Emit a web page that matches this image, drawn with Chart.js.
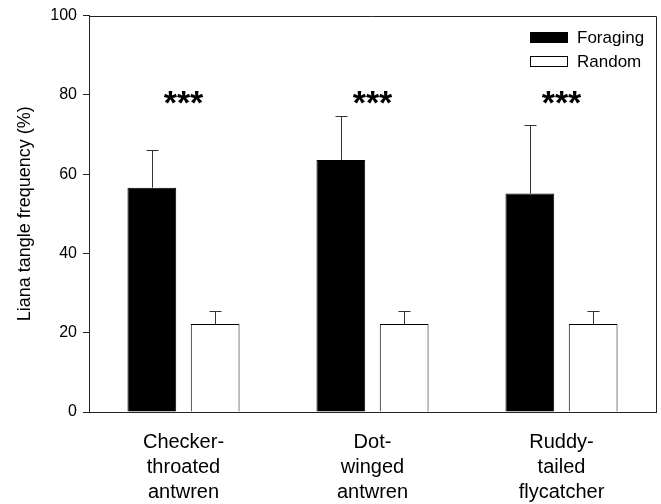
<!DOCTYPE html>
<html>
<head>
<meta charset="utf-8">
<script src="https://cdn.jsdelivr.net/npm/chart.js@4"></script>
<style>
  html, body { margin: 0; padding: 0; background: #fff; }
  canvas { display: block; }
</style>
</head>
<body>
<canvas id="chart" width="661" height="504"></canvas>
<script>
const categories = [
    ["Checker-", "throated", "antwren"],
    ["Dot-", "winged", "antwren"],
    ["Ruddy-", "tailed", "flycatcher"]
];
const foraging = [56.6, 63.6, 55.1];
const foragingErr = [9.5, 11.1, 17.4];
const random = [22.2, 22.2, 22.2];
const randomErr = [3.4, 3.4, 3.4];
const significance = ["***", "***", "***"];
const starLevel = 75.3;
const yTicks = [0, 20, 40, 60, 80, 100];

const FONT = "'Liberation Sans', Arial, sans-serif";

// error bars, stars, frame and legend
const extras = {
    id: "extras",
    afterDatasetsDraw(chart) {
        const c = chart.ctx;
        const y = chart.scales.y;
        const area = chart.chartArea;
        const errs = [foragingErr, randomErr];

        c.save();
        c.strokeStyle = "#333";
        c.lineWidth = 1;
        chart.data.datasets.forEach((ds, i) => {
            chart.getDatasetMeta(i).data.forEach((bar, j) => {
                const x = Math.round(bar.x) + 0.5;
                const top = y.getPixelForValue(ds.data[j]);
                const end = Math.round(y.getPixelForValue(ds.data[j] + errs[i][j])) + 0.5;
                c.beginPath();
                c.moveTo(x, top);
                c.lineTo(x, end);
                c.moveTo(x - 6, end);
                c.lineTo(x + 6, end);
                c.stroke();
            });
        });

        // frame top + right
        c.strokeStyle = "#222";
        c.beginPath();
        c.moveTo(area.left, Math.round(area.top) + 0.5);
        c.lineTo(Math.round(area.right) + 0.5, Math.round(area.top) + 0.5);
        c.lineTo(Math.round(area.right) + 0.5, area.bottom);
        c.stroke();

        // stars
        c.fillStyle = "#000";
        c.font = "bold 34px " + FONT;
        c.textAlign = "center";
        c.textBaseline = "alphabetic";
        significance.forEach((s, j) => {
            c.fillText(s, chart.scales.x.getPixelForValue(j), y.getPixelForValue(starLevel));
        });

        // legend
        c.font = "17px " + FONT;
        c.textAlign = "left";
        c.textBaseline = "middle";
        chart.data.datasets.forEach((ds, i) => {
            const bx = 530, by = 32 + i * 24;
            c.fillStyle = ds.backgroundColor;
            c.fillRect(bx, by, 38, 11);
            c.strokeStyle = "#000";
            c.strokeRect(bx + 0.5, by + 0.5, 37, 10);
            c.fillStyle = "#000";
            c.fillText(ds.label, bx + 47, by + 6);
        });
        c.restore();
    }
};

new Chart(document.getElementById("chart"), {
    type: "bar",
    data: {
        labels: categories,
        datasets: [{
            label: "Foraging",
            data: foraging,
            backgroundColor: "#000",
            borderColor: "#000",
            borderWidth: 1
        }, {
            label: "Random",
            data: random,
            backgroundColor: "#fff",
            borderColor: "#000",
            borderWidth: 1
        }]
    },
    options: {
        responsive: false,
        animation: false,
        layout: { padding: { left: 0, top: 14, right: 5, bottom: 0 } },
        categoryPercentage: 0.67,
        barPercentage: 0.77,
        plugins: { legend: { display: false }, tooltip: { enabled: false } },
        scales: {
            x: {
                grid: { display: false, drawTicks: false },
                border: { display: true, color: "#222", width: 1 },
                ticks: { color: "#000", padding: 18, maxRotation: 0, font: { family: FONT, size: 20, lineHeight: 1.25 } },
                afterFit(s) { s.height = 92; }
            },
            y: {
                min: 0,
                max: 100,
                afterBuildTicks(s) { s.ticks = yTicks.map(v => ({ value: v })); },
                grid: { display: true, drawOnChartArea: false, drawTicks: true, tickLength: 6, color: "#222" },
                border: { display: true, color: "#222", width: 1 },
                ticks: { color: "#000", padding: 6, font: { family: FONT, size: 16 } },
                title: { display: true, text: "Liana tangle frequency (%)", color: "#000", padding: { top: 14, bottom: 0 }, font: { family: FONT, size: 18 } },
                afterFit(s) { s.width = 89; }
            }
        }
    },
    plugins: [extras]
});
</script>
</body>
</html>
